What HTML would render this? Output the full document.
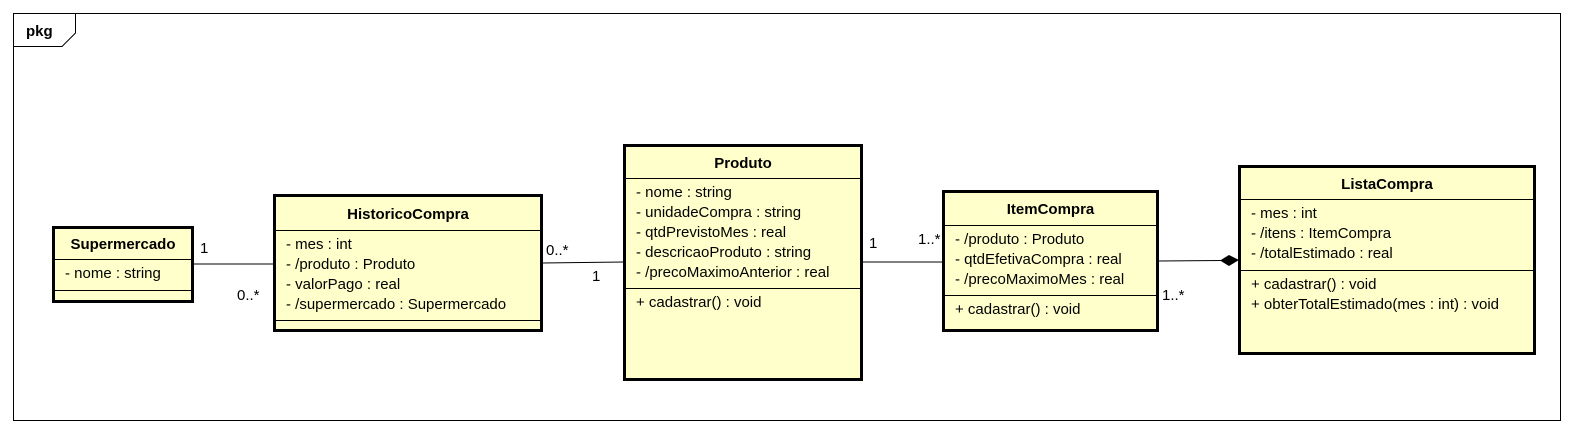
<!DOCTYPE html>
<html><head><meta charset="utf-8"><style>
body{margin:0;width:1574px;height:436px;background:#fff;position:relative;font-family:"Liberation Sans",Arial,sans-serif;font-size:15px;color:#000;overflow:hidden}
.c{position:absolute;background:#ffffcc;border:3px solid #000;box-sizing:border-box}
.h{font-weight:bold;text-align:center;border-bottom:1px solid #000;box-sizing:border-box}
.s{border-bottom:1px solid #000;padding:4px 0 0 10px;line-height:20px;box-sizing:border-box;white-space:nowrap}
.m{padding:4px 0 0 10px;line-height:20px;white-space:nowrap}
.l{position:absolute;font-size:15px}
</style></head><body>
<svg width="1574" height="436" style="position:absolute;left:0;top:0">
<rect x="13.5" y="13.5" width="1547" height="407" fill="none" stroke="#000"/>
<path d="M13.5 46.5 H62 L75.5 33 V13.5" fill="none" stroke="#000"/>
<text x="26" y="36" font-family="Liberation Sans" font-weight="bold" font-size="15">pkg</text>
<line x1="193" y1="264" x2="274" y2="264" stroke="#000"/>
<line x1="542" y1="263" x2="624" y2="262" stroke="#000"/>
<line x1="862" y1="262" x2="943" y2="262" stroke="#000"/>
<line x1="1158" y1="261" x2="1222" y2="260.5" stroke="#000"/>
<polygon points="1220,260.5 1229,255 1239,260 1229,266" fill="#000"/>
</svg>
<div class="c" style="left:52px;top:226px;width:142px;height:77px"><div class="h" style="height:31px;line-height:31px">Supermercado</div><div class="s" style="height:31px">- nome : string</div></div>
<div class="c" style="left:273px;top:194px;width:270px;height:138px"><div class="h" style="height:34px;line-height:36px">HistoricoCompra</div><div class="s" style="height:90px">- mes : int<br>- /produto : Produto<br>- valorPago : real<br>- /supermercado : Supermercado</div></div>
<div class="c" style="left:623px;top:144px;width:240px;height:237px"><div class="h" style="height:32px;line-height:33px">Produto</div><div class="s" style="height:110px">- nome : string<br>- unidadeCompra : string<br>- qtdPrevistoMes : real<br>- descricaoProduto : string<br>- /precoMaximoAnterior : real</div><div class="m">+ cadastrar() : void</div></div>
<div class="c" style="left:942px;top:190px;width:217px;height:142px"><div class="h" style="height:33px;line-height:34px">ItemCompra</div><div class="s" style="height:70px">- /produto : Produto<br>- qtdEfetivaCompra : real<br>- /precoMaximoMes : real</div><div class="m">+ cadastrar() : void</div></div>
<div class="c" style="left:1238px;top:165px;width:298px;height:190px"><div class="h" style="height:32px;line-height:33px">ListaCompra</div><div class="s" style="height:71px">- mes : int<br>- /itens : ItemCompra<br>- /totalEstimado : real</div><div class="m">+ cadastrar() : void<br>+ obterTotalEstimado(mes : int) : void</div></div>
<div class="l" style="left:200px;top:240px">1</div>
<div class="l" style="left:237px;top:287px">0..*</div>
<div class="l" style="left:546px;top:242px">0..*</div>
<div class="l" style="left:592px;top:268px">1</div>
<div class="l" style="left:869px;top:235px">1</div>
<div class="l" style="left:918px;top:231px">1..*</div>
<div class="l" style="left:1162px;top:287px">1..*</div>
</body></html>
